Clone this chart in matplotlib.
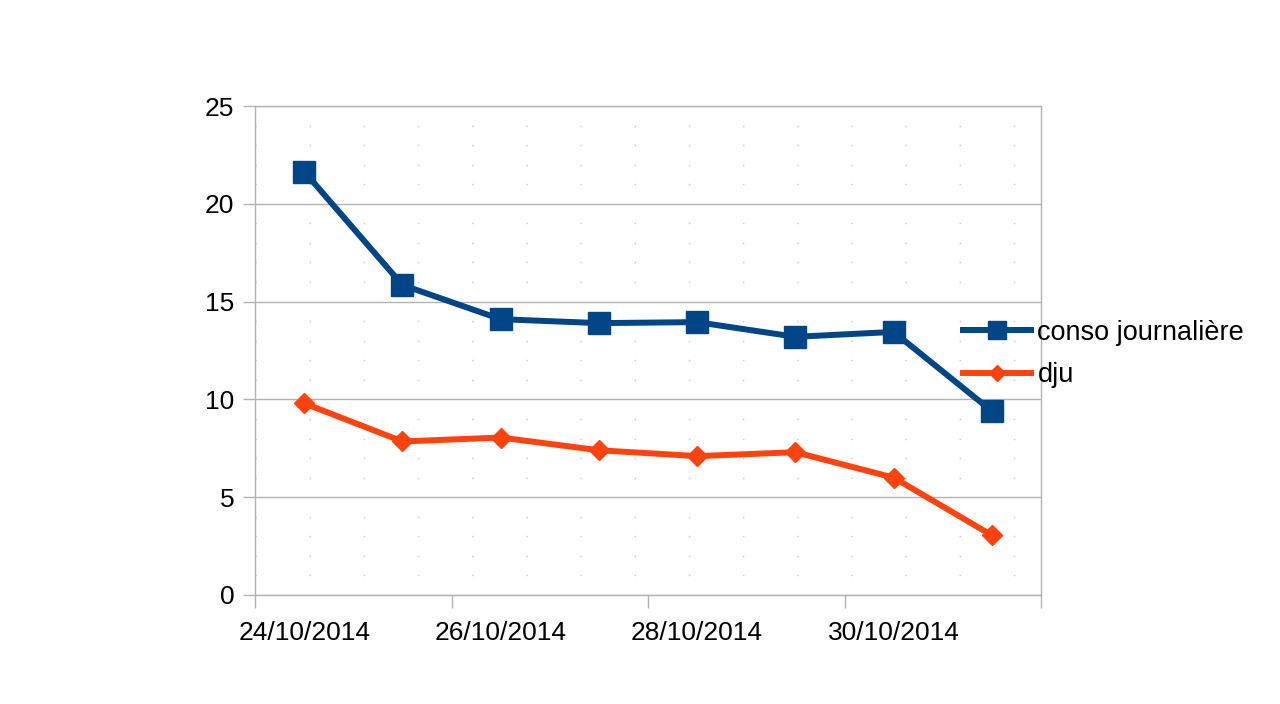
import matplotlib
matplotlib.use("Agg")
import matplotlib.pyplot as plt
import matplotlib.dates as mdates
from matplotlib.ticker import FixedLocator, FixedFormatter, MultipleLocator, NullFormatter
from datetime import datetime

plt.rcParams['font.family'] = ['Liberation Sans', 'DejaVu Sans']

dates = [datetime(2014, 10, d, 12) for d in range(24, 32)]
conso = [21.65, 15.85, 14.1, 13.9, 13.95, 13.2, 13.45, 9.4]
dju = [9.8, 7.85, 8.05, 7.4, 7.1, 7.3, 6.0, 3.05]
tick_dates = [datetime(2014, 10, 24), datetime(2014, 10, 26), datetime(2014, 10, 28),
              datetime(2014, 10, 30), datetime(2014, 11, 1)]
label_dates = [datetime(2014, 10, 24, 12), datetime(2014, 10, 26, 12),
               datetime(2014, 10, 28, 12), datetime(2014, 10, 30, 12)]
tick_labels = ['24/10/2014', '26/10/2014', '28/10/2014', '30/10/2014']
series_names = ['conso journalière', 'dju']

blue = '#004586'
orange = '#ff420e'
grid = '#b3b3b3'

fig = plt.figure(figsize=(12.8, 7.04), dpi=100)
ax = fig.add_axes([255/1280, 1-595/704, (1041-255)/1280, (595-106)/704])

ax.plot(dates, conso, color=blue, lw=4.3, marker='s', ms=15.5, label=series_names[0], zorder=3)
ax.plot(dates, dju, color=orange, lw=4.3, marker='D', ms=10, label=series_names[1], zorder=3)

ax.set_xlim(datetime(2014, 10, 24), datetime(2014, 11, 1))
ax.set_ylim(0, 25)
ax.xaxis.set_major_locator(FixedLocator([mdates.date2num(d) for d in tick_dates]))
ax.xaxis.set_major_formatter(NullFormatter())
ax.xaxis.set_minor_locator(FixedLocator([mdates.date2num(d) for d in label_dates]))
ax.xaxis.set_minor_formatter(FixedFormatter(tick_labels))
ax.yaxis.set_major_locator(MultipleLocator(5))
ax.yaxis.set_minor_locator(MultipleLocator(1))

ax.grid(True, which='major', axis='y', color=grid, lw=1)
ax.grid(True, which='minor', axis='y', color='#c8c8c8', lw=1, linestyle=(0, (1, 38)))
ax.set_axisbelow(True)
for s in ax.spines.values():
    s.set_color(grid)
    s.set_linewidth(1)

ax.tick_params(axis='both', which='major', color=grid, length=9, width=1, labelsize=19, pad=6)
ax.tick_params(axis='x', which='minor', length=0, labelsize=19, pad=19)
ax.tick_params(axis='y', which='minor', length=0)

fig.legend(loc='center left', bbox_to_anchor=(963/1280, 1-354/704), frameon=False,
           fontsize=19.5, handlelength=2.5, handletextpad=0.25, labelspacing=0.6,
           borderaxespad=0, borderpad=0, markerscale=0.85)

fig.savefig('out.png', dpi=100)
